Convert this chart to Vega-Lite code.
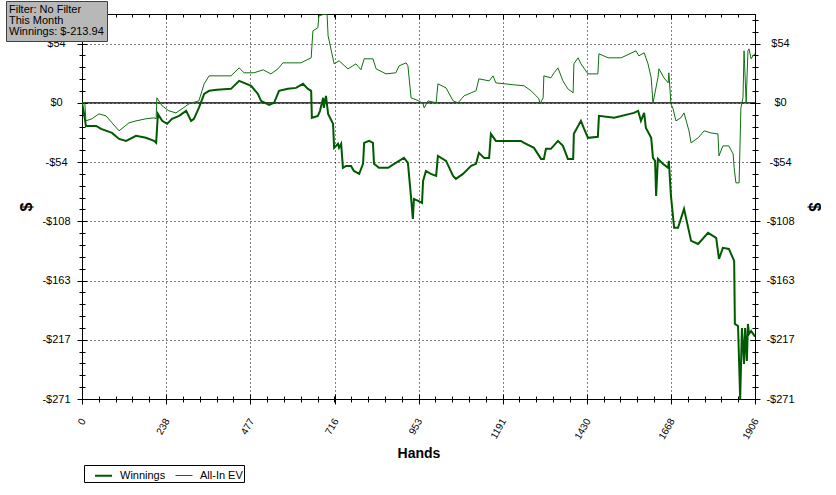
{
  "$schema": "https://vega.github.io/schema/vega-lite/v6.json",
  "width": 673,
  "height": 385,
  "padding": {"left": 5, "top": 0, "right": 0, "bottom": 0},
  "background": "white",
  "data": {"values": [
    {"h":0,"v":0,"s":"Winnings"},{"h":6,"v":-10.1,"s":"Winnings"},{"h":11,"v":-21.1,"s":"Winnings"},{"h":40,"v":-21.1,"s":"Winnings"},{"h":54,"v":-23.8,"s":"Winnings"},{"h":85,"v":-27.5,"s":"Winnings"},{"h":105,"v":-33,"s":"Winnings"},{"h":125,"v":-34.8,"s":"Winnings"},{"h":153,"v":-30.2,"s":"Winnings"},{"h":181,"v":-32,"s":"Winnings"},{"h":204,"v":-34.8,"s":"Winnings"},{"h":210,"v":-36.6,"s":"Winnings"},{"h":215,"v":-10.1,"s":"Winnings"},{"h":227,"v":-16.5,"s":"Winnings"},{"h":241,"v":-19.2,"s":"Winnings"},{"h":255,"v":-14.6,"s":"Winnings"},{"h":275,"v":-11.9,"s":"Winnings"},{"h":295,"v":-7.3,"s":"Winnings"},{"h":309,"v":-16.5,"s":"Winnings"},{"h":317,"v":-14.6,"s":"Winnings"},{"h":331,"v":-4.6,"s":"Winnings"},{"h":346,"v":8.2,"s":"Winnings"},{"h":360,"v":11,"s":"Winnings"},{"h":382,"v":11.9,"s":"Winnings"},{"h":422,"v":12.8,"s":"Winnings"},{"h":445,"v":20.1,"s":"Winnings"},{"h":479,"v":15.6,"s":"Winnings"},{"h":498,"v":8.2,"s":"Winnings"},{"h":507,"v":1.8,"s":"Winnings"},{"h":530,"v":-1.8,"s":"Winnings"},{"h":544,"v":0,"s":"Winnings"},{"h":558,"v":11,"s":"Winnings"},{"h":583,"v":12.8,"s":"Winnings"},{"h":606,"v":13.7,"s":"Winnings"},{"h":626,"v":17.4,"s":"Winnings"},{"h":640,"v":12.8,"s":"Winnings"},{"h":649,"v":11,"s":"Winnings"},{"h":651,"v":-13.7,"s":"Winnings"},{"h":668,"v":-11.9,"s":"Winnings"},{"h":674,"v":-7.3,"s":"Winnings"},{"h":683,"v":4.6,"s":"Winnings"},{"h":685,"v":-4.6,"s":"Winnings"},{"h":691,"v":6.4,"s":"Winnings"},{"h":697,"v":-10.1,"s":"Winnings"},{"h":711,"v":-19.2,"s":"Winnings"},{"h":714,"v":-41.2,"s":"Winnings"},{"h":725,"v":-37.5,"s":"Winnings"},{"h":728,"v":-41.2,"s":"Winnings"},{"h":734,"v":-37.5,"s":"Winnings"},{"h":739,"v":-59.5,"s":"Winnings"},{"h":748,"v":-57.7,"s":"Winnings"},{"h":762,"v":-57.7,"s":"Winnings"},{"h":770,"v":-62.3,"s":"Winnings"},{"h":785,"v":-65,"s":"Winnings"},{"h":796,"v":-55.8,"s":"Winnings"},{"h":799,"v":-36.6,"s":"Winnings"},{"h":813,"v":-34.8,"s":"Winnings"},{"h":824,"v":-36.6,"s":"Winnings"},{"h":827,"v":-55.8,"s":"Winnings"},{"h":841,"v":-59.5,"s":"Winnings"},{"h":867,"v":-59.5,"s":"Winnings"},{"h":884,"v":-55.8,"s":"Winnings"},{"h":898,"v":-53.1,"s":"Winnings"},{"h":912,"v":-50.4,"s":"Winnings"},{"h":923,"v":-54.9,"s":"Winnings"},{"h":932,"v":-87,"s":"Winnings"},{"h":937,"v":-106.2,"s":"Winnings"},{"h":940,"v":-87.9,"s":"Winnings"},{"h":952,"v":-89.7,"s":"Winnings"},{"h":963,"v":-91.6,"s":"Winnings"},{"h":966,"v":-71.4,"s":"Winnings"},{"h":974,"v":-62.3,"s":"Winnings"},{"h":988,"v":-65,"s":"Winnings"},{"h":1003,"v":-66.8,"s":"Winnings"},{"h":1008,"v":-48.5,"s":"Winnings"},{"h":1031,"v":-53.1,"s":"Winnings"},{"h":1051,"v":-66.8,"s":"Winnings"},{"h":1059,"v":-69.6,"s":"Winnings"},{"h":1079,"v":-65,"s":"Winnings"},{"h":1102,"v":-57.7,"s":"Winnings"},{"h":1116,"v":-55.8,"s":"Winnings"},{"h":1124,"v":-45.8,"s":"Winnings"},{"h":1139,"v":-50.4,"s":"Winnings"},{"h":1153,"v":-50.4,"s":"Winnings"},{"h":1158,"v":-28.4,"s":"Winnings"},{"h":1172,"v":-34.8,"s":"Winnings"},{"h":1243,"v":-34.8,"s":"Winnings"},{"h":1252,"v":-36.6,"s":"Winnings"},{"h":1280,"v":-41.2,"s":"Winnings"},{"h":1300,"v":-51.3,"s":"Winnings"},{"h":1308,"v":-51.3,"s":"Winnings"},{"h":1314,"v":-42.1,"s":"Winnings"},{"h":1328,"v":-42.1,"s":"Winnings"},{"h":1348,"v":-34.8,"s":"Winnings"},{"h":1362,"v":-39.4,"s":"Winnings"},{"h":1376,"v":-51.3,"s":"Winnings"},{"h":1391,"v":-51.3,"s":"Winnings"},{"h":1393,"v":-28.4,"s":"Winnings"},{"h":1413,"v":-16.5,"s":"Winnings"},{"h":1422,"v":-23.8,"s":"Winnings"},{"h":1433,"v":-32,"s":"Winnings"},{"h":1461,"v":-31.1,"s":"Winnings"},{"h":1464,"v":-11.9,"s":"Winnings"},{"h":1507,"v":-13.7,"s":"Winnings"},{"h":1563,"v":-9.2,"s":"Winnings"},{"h":1575,"v":-7.3,"s":"Winnings"},{"h":1583,"v":-16.5,"s":"Winnings"},{"h":1592,"v":-9.2,"s":"Winnings"},{"h":1597,"v":-22.9,"s":"Winnings"},{"h":1612,"v":-32,"s":"Winnings"},{"h":1617,"v":-50.4,"s":"Winnings"},{"h":1623,"v":-53.1,"s":"Winnings"},{"h":1626,"v":-85.1,"s":"Winnings"},{"h":1631,"v":-51.3,"s":"Winnings"},{"h":1645,"v":-55.8,"s":"Winnings"},{"h":1660,"v":-59.5,"s":"Winnings"},{"h":1662,"v":-53.1,"s":"Winnings"},{"h":1668,"v":-85.1,"s":"Winnings"},{"h":1677,"v":-114.4,"s":"Winnings"},{"h":1688,"v":-114.4,"s":"Winnings"},{"h":1705,"v":-97,"s":"Winnings"},{"h":1725,"v":-126.3,"s":"Winnings"},{"h":1745,"v":-129.1,"s":"Winnings"},{"h":1773,"v":-119,"s":"Winnings"},{"h":1796,"v":-123.6,"s":"Winnings"},{"h":1804,"v":-142.8,"s":"Winnings"},{"h":1815,"v":-132.7,"s":"Winnings"},{"h":1832,"v":-133.7,"s":"Winnings"},{"h":1847,"v":-144.6,"s":"Winnings"},{"h":1849,"v":-202.3,"s":"Winnings"},{"h":1858,"v":-204.2,"s":"Winnings"},{"h":1864,"v":-271,"s":"Winnings"},{"h":1869,"v":-206,"s":"Winnings"},{"h":1875,"v":-239,"s":"Winnings"},{"h":1878,"v":-206,"s":"Winnings"},{"h":1883,"v":-236.2,"s":"Winnings"},{"h":1886,"v":-202.3,"s":"Winnings"},{"h":1889,"v":-211.5,"s":"Winnings"},{"h":1895,"v":-208.7,"s":"Winnings"},{"h":1906,"v":-213.94,"s":"Winnings"},
    {"h":0,"v":0,"s":"All-In EV"},{"h":8,"v":0,"s":"All-In EV"},{"h":11,"v":-16.5,"s":"All-In EV"},{"h":28,"v":-14.6,"s":"All-In EV"},{"h":48,"v":-10.1,"s":"All-In EV"},{"h":68,"v":-11.9,"s":"All-In EV"},{"h":85,"v":-18.3,"s":"All-In EV"},{"h":105,"v":-25.6,"s":"All-In EV"},{"h":133,"v":-18.3,"s":"All-In EV"},{"h":153,"v":-16.5,"s":"All-In EV"},{"h":181,"v":-14.6,"s":"All-In EV"},{"h":204,"v":-13.7,"s":"All-In EV"},{"h":210,"v":-14.6,"s":"All-In EV"},{"h":212,"v":4.6,"s":"All-In EV"},{"h":227,"v":-2.7,"s":"All-In EV"},{"h":246,"v":-7.3,"s":"All-In EV"},{"h":266,"v":-9.2,"s":"All-In EV"},{"h":283,"v":-5.5,"s":"All-In EV"},{"h":303,"v":-0.9,"s":"All-In EV"},{"h":331,"v":1.8,"s":"All-In EV"},{"h":346,"v":17.4,"s":"All-In EV"},{"h":360,"v":24.7,"s":"All-In EV"},{"h":422,"v":24.7,"s":"All-In EV"},{"h":445,"v":32,"s":"All-In EV"},{"h":459,"v":27.5,"s":"All-In EV"},{"h":487,"v":27.5,"s":"All-In EV"},{"h":513,"v":30.2,"s":"All-In EV"},{"h":535,"v":26.5,"s":"All-In EV"},{"h":555,"v":31.1,"s":"All-In EV"},{"h":569,"v":36.6,"s":"All-In EV"},{"h":620,"v":36.6,"s":"All-In EV"},{"h":649,"v":41.2,"s":"All-In EV"},{"h":654,"v":65.9,"s":"All-In EV"},{"h":668,"v":68.7,"s":"All-In EV"},{"h":671,"v":79.6,"s":"All-In EV"},{"h":685,"v":81,"s":"All-In EV"},{"h":694,"v":81,"s":"All-In EV"},{"h":697,"v":61.3,"s":"All-In EV"},{"h":714,"v":35.7,"s":"All-In EV"},{"h":728,"v":38.5,"s":"All-In EV"},{"h":753,"v":31.1,"s":"All-In EV"},{"h":767,"v":33.9,"s":"All-In EV"},{"h":776,"v":35.7,"s":"All-In EV"},{"h":790,"v":30.2,"s":"All-In EV"},{"h":799,"v":40.3,"s":"All-In EV"},{"h":824,"v":40.3,"s":"All-In EV"},{"h":833,"v":31.1,"s":"All-In EV"},{"h":861,"v":26.5,"s":"All-In EV"},{"h":889,"v":27.5,"s":"All-In EV"},{"h":898,"v":33.9,"s":"All-In EV"},{"h":918,"v":36.6,"s":"All-In EV"},{"h":923,"v":33.9,"s":"All-In EV"},{"h":932,"v":4.6,"s":"All-In EV"},{"h":954,"v":1.8,"s":"All-In EV"},{"h":966,"v":-0.9,"s":"All-In EV"},{"h":969,"v":-4.6,"s":"All-In EV"},{"h":980,"v":1.8,"s":"All-In EV"},{"h":1003,"v":0,"s":"All-In EV"},{"h":1008,"v":17.4,"s":"All-In EV"},{"h":1031,"v":13.7,"s":"All-In EV"},{"h":1051,"v":1.8,"s":"All-In EV"},{"h":1065,"v":0,"s":"All-In EV"},{"h":1082,"v":6.4,"s":"All-In EV"},{"h":1102,"v":9.2,"s":"All-In EV"},{"h":1116,"v":11,"s":"All-In EV"},{"h":1124,"v":22,"s":"All-In EV"},{"h":1153,"v":20.1,"s":"All-In EV"},{"h":1164,"v":24.7,"s":"All-In EV"},{"h":1172,"v":18.3,"s":"All-In EV"},{"h":1223,"v":16.5,"s":"All-In EV"},{"h":1252,"v":15.6,"s":"All-In EV"},{"h":1272,"v":11,"s":"All-In EV"},{"h":1286,"v":6.4,"s":"All-In EV"},{"h":1294,"v":3.7,"s":"All-In EV"},{"h":1297,"v":-0.9,"s":"All-In EV"},{"h":1306,"v":4.6,"s":"All-In EV"},{"h":1308,"v":24.7,"s":"All-In EV"},{"h":1328,"v":22.9,"s":"All-In EV"},{"h":1337,"v":27.5,"s":"All-In EV"},{"h":1348,"v":32,"s":"All-In EV"},{"h":1362,"v":20.1,"s":"All-In EV"},{"h":1376,"v":12.8,"s":"All-In EV"},{"h":1391,"v":9.2,"s":"All-In EV"},{"h":1393,"v":35.7,"s":"All-In EV"},{"h":1405,"v":41.2,"s":"All-In EV"},{"h":1413,"v":35.7,"s":"All-In EV"},{"h":1433,"v":26.5,"s":"All-In EV"},{"h":1461,"v":26.5,"s":"All-In EV"},{"h":1464,"v":44.9,"s":"All-In EV"},{"h":1490,"v":41.2,"s":"All-In EV"},{"h":1527,"v":41.2,"s":"All-In EV"},{"h":1569,"v":47.6,"s":"All-In EV"},{"h":1577,"v":43,"s":"All-In EV"},{"h":1592,"v":45.8,"s":"All-In EV"},{"h":1603,"v":35.7,"s":"All-In EV"},{"h":1612,"v":22.9,"s":"All-In EV"},{"h":1617,"v":0,"s":"All-In EV"},{"h":1620,"v":4.6,"s":"All-In EV"},{"h":1631,"v":22.9,"s":"All-In EV"},{"h":1634,"v":31.1,"s":"All-In EV"},{"h":1648,"v":22.9,"s":"All-In EV"},{"h":1660,"v":18.3,"s":"All-In EV"},{"h":1662,"v":27.5,"s":"All-In EV"},{"h":1668,"v":-0.9,"s":"All-In EV"},{"h":1674,"v":-5.5,"s":"All-In EV"},{"h":1682,"v":-16.5,"s":"All-In EV"},{"h":1696,"v":-13.7,"s":"All-In EV"},{"h":1705,"v":-9.2,"s":"All-In EV"},{"h":1719,"v":-25.6,"s":"All-In EV"},{"h":1725,"v":-36.6,"s":"All-In EV"},{"h":1745,"v":-32,"s":"All-In EV"},{"h":1762,"v":-25.6,"s":"All-In EV"},{"h":1781,"v":-27.5,"s":"All-In EV"},{"h":1801,"v":-28.4,"s":"All-In EV"},{"h":1804,"v":-48.5,"s":"All-In EV"},{"h":1815,"v":-39.4,"s":"All-In EV"},{"h":1832,"v":-39.4,"s":"All-In EV"},{"h":1844,"v":-46.7,"s":"All-In EV"},{"h":1847,"v":-59.5,"s":"All-In EV"},{"h":1852,"v":-73.2,"s":"All-In EV"},{"h":1861,"v":-73.2,"s":"All-In EV"},{"h":1866,"v":-4.6,"s":"All-In EV"},{"h":1872,"v":4.6,"s":"All-In EV"},{"h":1875,"v":47.6,"s":"All-In EV"},{"h":1881,"v":0,"s":"All-In EV"},{"h":1886,"v":47.6,"s":"All-In EV"},{"h":1889,"v":49.4,"s":"All-In EV"},{"h":1895,"v":40.3,"s":"All-In EV"},{"h":1900,"v":43,"s":"All-In EV"},{"h":1906,"v":44.9,"s":"All-In EV"}
  ]},
  "resolve": {"axis": {"x": "independent", "y": "independent"}},
  "layer": [
    {
      "data": {"values": [{}]},
      "mark": {"type": "rule", "color": "black", "strokeWidth": 1.2},
      "encoding": {
        "x": {"datum": 0, "type": "quantitative", "scale": {"domain": [0, 1906], "nice": false, "zero": false},
          "axis": {"orient": "bottom", "offset": -5, "ticks": true, "tickSize": 10, "tickColor": "black", "tickOpacity": 1,
            "values": [0, 238, 477, 716, 953, 1191, 1430, 1668, 1906], "format": "d",
            "labelAngle": -60, "labelAlign": "right", "labelBaseline": "middle", "labelPadding": 15, "labelOffset": 1, "labelFontSize": 10,
            "labelFlush": false, "labelOverlap": false, "labelBound": false,
            "grid": true, "title": "Hands", "titleFontSize": 14, "titleX": 336.5, "titleY": 59, "titleAlign": "center", "titleBaseline": "middle"}},
        "x2": {"datum": 1906},
        "y": {"datum": 0, "type": "quantitative", "scale": {"domain": [-271, 81.3], "nice": false, "zero": false},
          "axis": {"orient": "left", "offset": -5, "ticks": true, "tickSize": 10, "tickColor": "black", "tickOpacity": 1,
            "values": [54.2, 0, -54.2, -108.4, -162.6, -216.8, -271],
            "labelExpr": "(datum.value < 0 ? '-$' : '$') + format(abs(datum.value), '.0f')",
            "labelAlign": "center", "labelBaseline": "middle", "labelPadding": 21, "labelFlush": false, "labelOverlap": false, "labelBound": false,
            "grid": true, "title": "$", "titleFontSize": 16, "titleX": -61, "titleY": 192.5, "titleAngle": -90, "titleAlign": "center", "titleBaseline": "middle"}}
      }
    },
    {
      "data": {"values": [{}]},
      "mark": {"type": "rule", "color": "black", "strokeWidth": 1, "opacity": 0},
      "encoding": {
        "x": {"datum": 0, "type": "quantitative", "scale": {"domain": [0, 1906], "nice": false, "zero": false},
          "axis": {"orient": "bottom", "offset": -3, "ticks": true, "tickSize": 6, "tickColor": "black", "tickOpacity": 1, "labels": false, "grid": false, "title": null,
            "values": [0, 47.65, 95.3, 142.95, 190.6, 238.25, 285.9, 333.55, 381.2, 428.85, 476.5, 524.15, 571.8, 619.45, 667.1, 714.75, 762.4, 810.05, 857.7, 905.35, 953, 1000.65, 1048.3, 1095.95, 1143.6, 1191.25, 1238.9, 1286.55, 1334.2, 1381.85, 1429.5, 1477.15, 1524.8, 1572.45, 1620.1, 1667.75, 1715.4, 1763.05, 1810.7, 1858.35, 1906]}},
        "x2": {"datum": 1906},
        "y": {"datum": 0, "type": "quantitative", "scale": {"domain": [-271, 81.3], "nice": false, "zero": false},
          "axis": {"orient": "left", "offset": -3, "ticks": true, "tickSize": 6, "tickColor": "black", "tickOpacity": 1, "labels": false, "grid": false, "title": null,
            "values": [-271, -260.16, -249.32, -238.48, -227.64, -216.8, -205.96, -195.12, -184.28, -173.44, -162.6, -151.76, -140.92, -130.08, -119.24, -108.4, -97.56, -86.72, -75.88, -65.04, -54.2, -43.36, -32.52, -21.68, -10.84, 0, 10.84, 21.68, 32.52, 43.36, 54.2, 65.04, 75.88]}}
      }
    },
    {
      "data": {"values": [{}]},
      "mark": {"type": "rule", "color": "black", "strokeWidth": 1, "opacity": 0},
      "encoding": {
        "x": {"datum": 0, "type": "quantitative", "scale": {"domain": [0, 1906], "nice": false, "zero": false},
          "axis": {"orient": "top", "offset": -5, "ticks": true, "tickSize": 5, "tickColor": "black", "tickOpacity": 1, "labels": false, "grid": false, "title": null,
            "values": [0, 238, 477, 716, 953, 1191, 1430, 1668, 1906]}},
        "x2": {"datum": 1906},
        "y": {"datum": 0, "type": "quantitative", "scale": {"domain": [-271, 81.3], "nice": false, "zero": false},
          "axis": {"orient": "right", "offset": -5, "ticks": true, "tickSize": 10, "tickColor": "black", "tickOpacity": 1,
            "values": [54.2, 0, -54.2, -108.4, -162.6, -216.8, -271],
            "labelExpr": "(datum.value < 0 ? '-$' : '$') + format(abs(datum.value), '.0f')",
            "labelAlign": "center", "labelBaseline": "middle", "labelPadding": 20, "labelFlush": false, "labelOverlap": false, "labelBound": false,
            "grid": false, "title": "$", "titleFontSize": 16, "titleX": 63, "titleY": 192.5, "titleAngle": 90, "titleAlign": "center", "titleBaseline": "middle"}}
      }
    },
    {
      "data": {"values": [{}]},
      "mark": {"type": "rule", "color": "black", "strokeWidth": 1, "opacity": 0},
      "encoding": {
        "x": {"datum": 0, "type": "quantitative", "scale": {"domain": [0, 1906], "nice": false, "zero": false},
          "axis": {"orient": "top", "offset": -3, "ticks": true, "tickSize": 3, "tickColor": "black", "tickOpacity": 1, "labels": false, "grid": false, "title": null,
            "values": [0, 47.65, 95.3, 142.95, 190.6, 238.25, 285.9, 333.55, 381.2, 428.85, 476.5, 524.15, 571.8, 619.45, 667.1, 714.75, 762.4, 810.05, 857.7, 905.35, 953, 1000.65, 1048.3, 1095.95, 1143.6, 1191.25, 1238.9, 1286.55, 1334.2, 1381.85, 1429.5, 1477.15, 1524.8, 1572.45, 1620.1, 1667.75, 1715.4, 1763.05, 1810.7, 1858.35, 1906]}},
        "x2": {"datum": 1906},
        "y": {"datum": 0, "type": "quantitative", "scale": {"domain": [-271, 81.3], "nice": false, "zero": false},
          "axis": {"orient": "right", "offset": -3, "ticks": true, "tickSize": 6, "tickColor": "black", "tickOpacity": 1, "labels": false, "grid": false, "title": null,
            "values": [-271, -260.16, -249.32, -238.48, -227.64, -216.8, -205.96, -195.12, -184.28, -173.44, -162.6, -151.76, -140.92, -130.08, -119.24, -108.4, -97.56, -86.72, -75.88, -65.04, -54.2, -43.36, -32.52, -21.68, -10.84, 0, 10.84, 21.68, 32.52, 43.36, 54.2, 65.04, 75.88]}}
      }
    },
    {
      "mark": {"type": "line", "clip": true, "interpolate": "linear"},
      "encoding": {
        "x": {"field": "h", "type": "quantitative", "scale": {"domain": [0, 1906], "nice": false, "zero": false}, "axis": null},
        "y": {"field": "v", "type": "quantitative", "scale": {"domain": [-271, 81.3], "nice": false, "zero": false}, "axis": null},
        "color": {"field": "s", "type": "nominal",
          "scale": {"domain": ["Winnings", "All-In EV"], "range": ["#005a00", "#0e700e"]},
          "legend": {"orient": "none", "legendX": 2, "legendY": 451, "direction": "horizontal", "title": null,
            "strokeColor": "black", "fillColor": "white", "padding": 1, "symbolType": "stroke", "symbolSize": 289, "symbolOffset": 9,
            "labelFont": "Liberation Sans", "labelFontSize": 11, "labelColor": "black", "labelOffset": 7, "columnPadding": 0}},
        "strokeWidth": {"field": "s", "type": "nominal",
          "scale": {"domain": ["Winnings", "All-In EV"], "range": [2, 1]},
          "legend": {"orient": "none", "legendX": 2, "legendY": 451, "direction": "horizontal", "title": null,
            "strokeColor": "black", "fillColor": "white", "padding": 1, "symbolType": "stroke", "symbolSize": 289, "symbolOffset": 9,
            "labelFont": "Liberation Sans", "labelFontSize": 11, "labelColor": "black", "labelOffset": 7, "columnPadding": 0}}
      }
    },
    {
      "data": {"values": [{"note": "Winnings: $-213.94"}]},
      "mark": {"type": "point", "opacity": 0},
      "encoding": {
        "shape": {"field": "note", "type": "nominal",
          "legend": {"orient": "none", "legendX": -76, "legendY": -13,
            "title": ["Filter: No Filter", "This Month", "Winnings: $-213.94"], "titleFont": "Liberation Sans", "titleFontSize": 11, "titleFontWeight": "normal",
            "titleColor": "black", "titleLineHeight": 11, "titlePadding": 0,
            "labelExpr": "''", "labelFontSize": 1, "labelOffset": 0,
            "symbolSize": 0, "symbolOpacity": 0, "symbolStrokeWidth": 0,
            "fillColor": "#b8b8b8", "strokeColor": "#404040", "padding": 3}}
      }
    }
  ],
  "config": {
    "view": {"stroke": "black", "strokeWidth": 1},
    "axis": {"domain": false, "ticks": true, "labelFont": "Liberation Sans", "labelFontSize": 11, "labelColor": "black",
      "tickColor": "black", "tickWidth": 1, "titleFont": "Liberation Sans", "titleFontWeight": "bold", "titleColor": "black",
      "gridColor": "black", "gridDash": [1, 3], "gridOpacity": 1, "gridWidth": 1}
  }
}
